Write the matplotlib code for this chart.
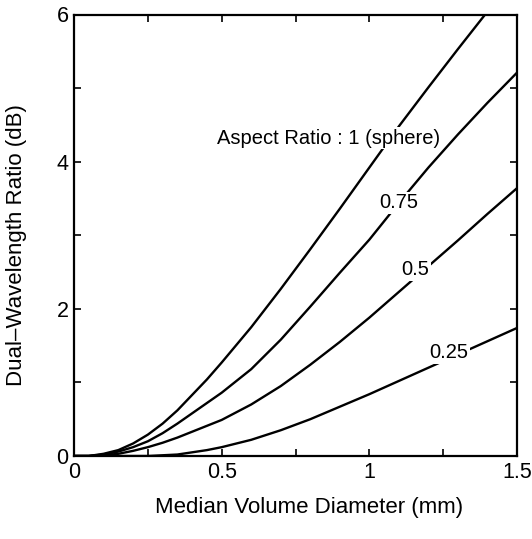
import matplotlib
matplotlib.use("Agg")
import matplotlib.pyplot as plt
from matplotlib.ticker import MultipleLocator

plt.rcParams['font.family'] = ['Liberation Sans', 'DejaVu Sans']

# Median volume diameter (mm)
diameter_mm = [0.0, 0.05, 0.1, 0.15, 0.2, 0.25, 0.3, 0.35, 0.4, 0.45, 0.5,
               0.6, 0.7, 0.8, 0.9, 1.0, 1.1, 1.2, 1.3, 1.4, 1.5]
diameter_sphere = diameter_mm[:20]

# Dual-wavelength ratio (dB) per aspect ratio
dwr_ar_1 = [0.0, 0.0, 0.03, 0.08, 0.17, 0.29, 0.44, 0.62, 0.83, 1.04, 1.27,
            1.75, 2.27, 2.81, 3.36, 3.92, 4.48, 5.01, 5.53, 6.04]
dwr_ar_075 = [0.0, 0.0, 0.02, 0.06, 0.12, 0.20, 0.31, 0.44, 0.58, 0.72, 0.86,
              1.18, 1.58, 2.03, 2.49, 2.94, 3.44, 3.92, 4.37, 4.80, 5.21]
dwr_ar_05 = [0.0, 0.0, 0.01, 0.03, 0.07, 0.12, 0.18, 0.25, 0.33, 0.41, 0.49,
             0.70, 0.95, 1.24, 1.55, 1.88, 2.23, 2.58, 2.93, 3.29, 3.64]
dwr_ar_025 = [0.0, 0.0, 0.0, 0.0, 0.0, 0.0, 0.01, 0.02, 0.05, 0.08, 0.12,
              0.22, 0.35, 0.50, 0.67, 0.84, 1.02, 1.20, 1.38, 1.56, 1.74]

labels = ["Aspect Ratio : 1 (sphere)", "0.75", "0.5", "0.25"]
label_pos = [(0.485, 4.32), (1.10, 3.44), (1.156, 2.53), (1.27, 1.40)]
label_ha = ["left", "center", "center", "center"]

x_ticks = [0, 0.5, 1, 1.5]
x_ticklabels = ["0", "0.5", "1", "1.5"]
y_ticks = [0, 2, 4, 6]
y_ticklabels = ["0", "2", "4", "6"]

fig = plt.figure(figsize=(5.32, 5.39), dpi=100)
ax = fig.add_axes([74/532, 1 - 456/539, (517 - 74)/532, (456 - 14.5)/539])

series = [(diameter_sphere, dwr_ar_1), (diameter_mm, dwr_ar_075),
          (diameter_mm, dwr_ar_05), (diameter_mm, dwr_ar_025)]
for (xs, ys) in series:
    ax.plot(xs, ys, color='black', lw=1.7, solid_capstyle='round',
            solid_joinstyle='round', zorder=2)

for txt, (tx, ty), ha in zip(labels, label_pos, label_ha):
    ax.text(tx, ty, txt, ha=ha, va='center', fontsize=14.5, zorder=3,
            bbox=dict(facecolor='white', edgecolor='none', pad=1.0))

ax.set_xlim(0, 1.5)
ax.set_ylim(0, 6)
ax.set_xticks(x_ticks)
ax.set_xticklabels(x_ticklabels)
ax.set_yticks(y_ticks)
ax.set_yticklabels(y_ticklabels)
ax.xaxis.set_minor_locator(MultipleLocator(0.25))
ax.yaxis.set_minor_locator(MultipleLocator(1))
ax.tick_params(which='both', direction='in', top=True, right=True, length=5, width=1.2)
ax.tick_params(which='major', labelsize=15.5, pad=4)
for s in ax.spines.values():
    s.set_linewidth(1.6)

ax.set_xlabel("Median Volume Diameter (mm)", fontsize=16)
ax.set_ylabel("Dual\u2013Wavelength Ratio (dB)", fontsize=16)
ax.xaxis.set_label_coords(0.53, -0.093)
ax.yaxis.set_label_coords(-0.106, 0.478)

fig.savefig("out.png", dpi=100)
